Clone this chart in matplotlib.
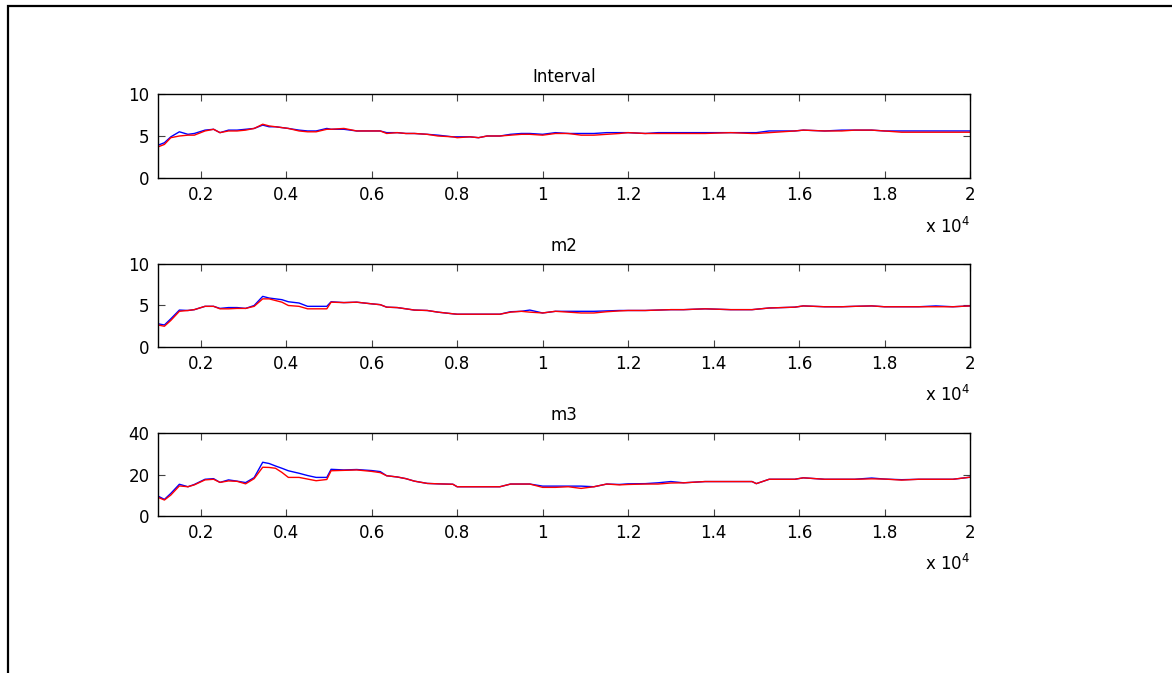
import matplotlib
matplotlib.use("Agg")
import matplotlib.pyplot as plt
from matplotlib.patches import Rectangle

plt.rcParams["font.family"] = ["DejaVu Sans"]
plt.rcParams["mathtext.fontset"] = "dejavusans"

# shared sample positions
x = [1000, 1150, 1300, 1500, 1700, 1850, 2100, 2300, 2450, 2650, 2850, 3050,
     3250, 3450, 3600, 3750, 3900, 4050, 4300, 4500, 4700, 4950, 5050, 5350,
     5650, 6000, 6200, 6350, 6600, 6800, 7000, 7300, 7550, 7900, 8000, 8300,
     8500, 8700, 9000, 9250, 9500, 9700, 10000, 10300, 10600, 10900, 11200,
     11500, 11800, 12000, 12400, 12700, 13000, 13300, 13800, 14400, 14900,
     15000, 15300, 15900, 16100, 16600, 17000, 17300, 17700, 18000, 18400,
     18800, 19200, 19600, 20000]

interval_blue = [3.9, 4.2, 4.9, 5.5, 5.2, 5.3, 5.7, 5.8, 5.4, 5.7, 5.7, 5.8,
                 5.9, 6.3, 6.1, 6.1, 6.0, 5.9, 5.7, 5.6, 5.6, 5.9, 5.8, 5.8,
                 5.6, 5.6, 5.6, 5.4, 5.4, 5.3, 5.3, 5.2, 5.1, 4.9, 4.9, 4.9,
                 4.8, 5.0, 5.0, 5.2, 5.3, 5.3, 5.2, 5.4, 5.3, 5.3, 5.3,
                 5.4, 5.4, 5.4, 5.3, 5.4, 5.4, 5.4, 5.4, 5.4, 5.4,
                 5.4, 5.6, 5.6, 5.7, 5.6, 5.7, 5.7, 5.7, 5.6, 5.6,
                 5.6, 5.6, 5.6, 5.6]
interval_red = [3.7, 4.0, 4.8, 5.0, 5.1, 5.1, 5.6, 5.8, 5.4, 5.6, 5.6, 5.7,
                5.9, 6.4, 6.2, 6.1, 6.0, 5.9, 5.6, 5.5, 5.5, 5.8, 5.8, 5.9,
                5.6, 5.6, 5.6, 5.3, 5.4, 5.3, 5.3, 5.2, 5.0, 4.9, 4.8, 4.9,
                4.8, 5.0, 5.0, 5.1, 5.2, 5.2, 5.1, 5.3, 5.3, 5.1, 5.1,
                5.2, 5.3, 5.4, 5.3, 5.3, 5.3, 5.3, 5.3, 5.4, 5.3,
                5.3, 5.4, 5.6, 5.7, 5.6, 5.6, 5.7, 5.7, 5.6, 5.45,
                5.45, 5.45, 5.45, 5.45]

m2_blue = [2.8, 2.65, 3.4, 4.45, 4.4, 4.5, 4.9, 4.9, 4.65, 4.75, 4.75, 4.65,
           5.0, 6.1, 5.9, 5.8, 5.7, 5.45, 5.3, 4.9, 4.9, 4.9, 5.45, 5.35,
           5.4, 5.2, 5.1, 4.8, 4.75, 4.6, 4.45, 4.4, 4.2, 4.0, 3.95, 3.95,
           3.95, 3.95, 3.95, 4.25, 4.3, 4.45, 4.1, 4.3, 4.3, 4.3, 4.3,
           4.35, 4.4, 4.4, 4.4, 4.45, 4.5, 4.5, 4.6, 4.5, 4.5,
           4.55, 4.7, 4.8, 4.95, 4.85, 4.85, 4.9, 4.95, 4.85, 4.85,
           4.85, 4.95, 4.85, 4.95]
m2_red = [2.65, 2.5, 3.2, 4.3, 4.4, 4.5, 4.9, 4.9, 4.6, 4.6, 4.65, 4.65,
          4.9, 5.8, 5.8, 5.6, 5.4, 5.0, 4.9, 4.6, 4.6, 4.6, 5.4, 5.35,
          5.4, 5.2, 5.1, 4.8, 4.75, 4.6, 4.45, 4.4, 4.2, 4.0, 3.95, 3.95,
          3.95, 3.95, 3.95, 4.2, 4.3, 4.2, 4.1, 4.3, 4.2, 4.1, 4.1,
          4.25, 4.35, 4.4, 4.4, 4.45, 4.5, 4.5, 4.6, 4.5, 4.5,
          4.55, 4.7, 4.8, 4.95, 4.85, 4.85, 4.9, 4.95, 4.85, 4.85,
          4.85, 4.85, 4.85, 4.95]

m3_blue = [9.6, 8.0, 10.9, 15.3, 14.1, 15.2, 17.7, 18.0, 16.2, 17.4, 16.8, 16.1,
           18.5, 25.9, 25.3, 24.1, 23.0, 21.8, 20.6, 19.5, 18.6, 18.6, 22.5, 22.2,
           22.4, 21.9, 21.4, 19.4, 18.8, 18.0, 16.8, 15.7, 15.5, 15.3, 14.1, 14.1,
           14.1, 14.1, 14.1, 15.4, 15.4, 15.4, 14.4, 14.4, 14.4, 14.4, 14.1,
           15.4, 15.2, 15.5, 15.6, 16.0, 16.6, 16.0, 16.6, 16.6, 16.6,
           15.6, 17.7, 17.7, 18.4, 17.7, 17.7, 17.7, 18.3, 17.8, 17.5,
           17.7, 17.7, 17.7, 18.7]
m3_red = [9.0, 7.7, 10.1, 14.5, 14.1, 15.0, 17.4, 17.7, 16.2, 16.9, 16.7, 15.5,
          18.0, 23.5, 23.4, 23.0, 21.0, 18.6, 18.6, 17.8, 17.0, 17.6, 21.8, 22.0,
          22.2, 21.5, 20.9, 19.4, 18.8, 18.0, 16.8, 15.7, 15.5, 15.3, 14.1, 14.1,
          14.1, 14.1, 14.1, 15.4, 15.4, 15.4, 13.8, 13.8, 14.1, 13.3, 14.1,
          15.4, 15.0, 15.2, 15.4, 15.4, 15.9, 16.0, 16.6, 16.6, 16.6,
          15.6, 17.7, 17.7, 18.4, 17.7, 17.7, 17.7, 17.9, 17.8, 17.3,
          17.7, 17.7, 17.7, 18.7]

titles = ["Interval", "m2", "m3"]
ylims = [(0, 10), (0, 10), (0, 40)]
yticks = [[0, 5, 10], [0, 5, 10], [0, 20, 40]]
xticks = [2000, 4000, 6000, 8000, 10000, 12000, 14000, 16000, 18000, 20000]
xticklabels = ["0.2", "0.4", "0.6", "0.8", "1", "1.2", "1.4", "1.6", "1.8", "2"]
series = [(interval_blue, interval_red), (m2_blue, m2_red), (m3_blue, m3_red)]

W, H = 1172, 673
fig = plt.figure(figsize=(W / 100, H / 100), dpi=100)

# frame around the figure (right and bottom edges fall outside the picture)
fig.add_artist(Rectangle((7.5 / W, -0.2), 1.5, 1.2 - 5.5 / H,
                         transform=fig.transFigure, fill=False,
                         edgecolor="black", linewidth=1.6))

# axes boxes in pixels: (top, bottom)
boxes = [(94, 178), (264, 347), (433, 516)]
left, right = 158, 970

for (top, bottom), title, ylim, yt, (blue, red) in zip(boxes, titles, ylims, yticks, series):
    ax = fig.add_axes([left / W, 1 - bottom / H, (right - left) / W, (bottom - top) / H])
    ax.plot(x, blue, color="#0000ff", linewidth=1.0)
    ax.plot(x, red, color="#ff0000", linewidth=1.0)
    ax.set_xlim(1000, 20000)
    ax.set_ylim(*ylim)
    ax.set_yticks(yt)
    ax.set_xticks(xticks)
    ax.set_xticklabels(xticklabels)
    ax.tick_params(direction="in", length=5, width=0.8, color="#444444",
                   top=True, right=True, labelsize=12, pad=6)
    for s in ax.spines.values():
        s.set_linewidth(1.0)
    ax.set_title(title, fontsize=12, pad=9)
    ax.text(1.0, -0.58, r"x 10$^{4}$", transform=ax.transAxes,
            ha="right", va="center", fontsize=12)

fig.savefig("out.png", dpi=100)
